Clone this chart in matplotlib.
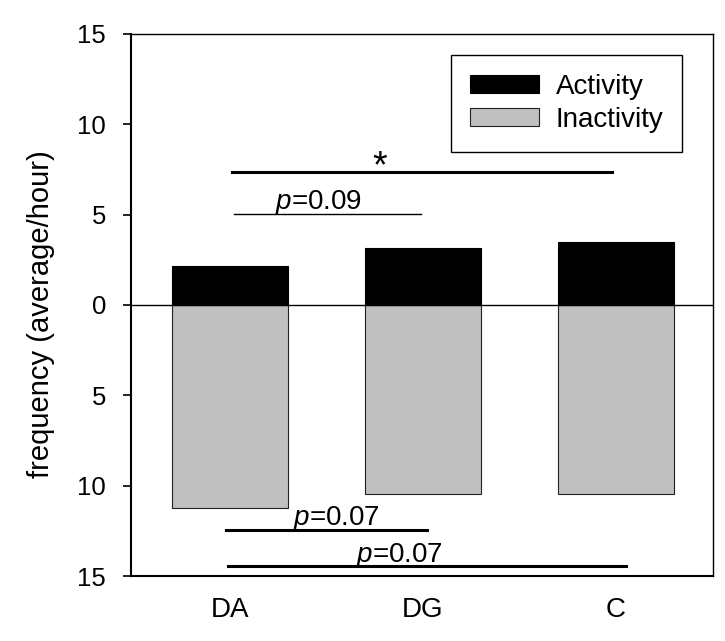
import matplotlib
matplotlib.use("Agg")
import matplotlib.pyplot as plt
from matplotlib.ticker import FuncFormatter

# =========================================================
# Data
# =========================================================

groups = ["DA", "DG", "C"]
activity = [2.15, 3.17, 3.47]
inactivity = [11.25, 10.48, 10.48]

# significance brackets: (x_start, x_end, y, label, label_x, linewidth)
brackets = [
    (0.01, 1.98, 7.35, "*", 0.775, 2.2),
    (0.02, 0.99, 5.05, "$\\mathit{p}$=0.09", 0.46, 1.0),
    (-0.02, 1.02, -12.45, "$\\mathit{p}$=0.07", 0.55, 2.2),
    (-0.01, 2.05, -14.45, "$\\mathit{p}$=0.07", 0.88, 2.2),
]

# =========================================================
# Plot
# =========================================================

plt.rcParams["font.family"] = ["Liberation Sans", "DejaVu Sans"]
plt.rcParams["mathtext.fontset"] = "custom"
plt.rcParams["mathtext.it"] = "Liberation Sans:italic"
plt.rcParams["mathtext.rm"] = "Liberation Sans"

fig = plt.figure(figsize=(7.25, 6.41), dpi=100)
ax = fig.add_axes([0.181, 0.1014, 0.802, 0.8456])

x = list(range(len(groups)))
ax.bar(x, activity, width=0.6, color="black", edgecolor="black",
       linewidth=0.8, label="Activity")
ax.bar(x, [-v for v in inactivity], width=0.6, color="#c0c0c0",
       edgecolor="#222222", linewidth=0.8, label="Inactivity")
ax.axhline(0, color="black", linewidth=1.0, zorder=3)

ax.set_xlim(-0.51, 2.5)
ax.set_ylim(-15, 15)
ax.set_yticks([-15, -10, -5, 0, 5, 10, 15])
ax.yaxis.set_major_formatter(FuncFormatter(lambda v, _: f"{abs(v):.0f}"))
ax.set_xticks(x)
ax.set_xticklabels(groups)
ax.tick_params(axis="y", direction="out", length=6, width=1.2,
               labelsize=18.5, pad=12)
ax.tick_params(axis="x", length=0, labelsize=20, pad=15)
for s in ax.spines.values():
    s.set_linewidth(1.0)
ax.spines["left"].set_linewidth(1.5)
ax.spines["bottom"].set_linewidth(1.5)

ax.set_ylabel("frequency (average/hour)", fontsize=21)
ax.yaxis.set_label_coords(-0.131, 0.483)

for x0, x1, y, txt, lx, lw in brackets:
    ax.plot([x0, x1], [y, y], color="black", linewidth=lw)
    if txt == "*":
        ax.text(lx, y - 0.3, txt, ha="center", va="baseline", fontsize=27)
    else:
        ax.text(lx, y + 0.25, txt, ha="center", va="baseline", fontsize=20)

leg = ax.legend(loc="upper right", bbox_to_anchor=(0.948, 0.961),
                borderaxespad=0, fontsize=20, fancybox=False, framealpha=1,
                handlelength=2.5, handleheight=0.6, handletextpad=0.6,
                borderpad=0.68, labelspacing=0.25)
leg.get_frame().set_edgecolor("black")
leg.get_frame().set_linewidth(1.0)

fig.savefig("out.png", dpi=100)
plt.close(fig)
